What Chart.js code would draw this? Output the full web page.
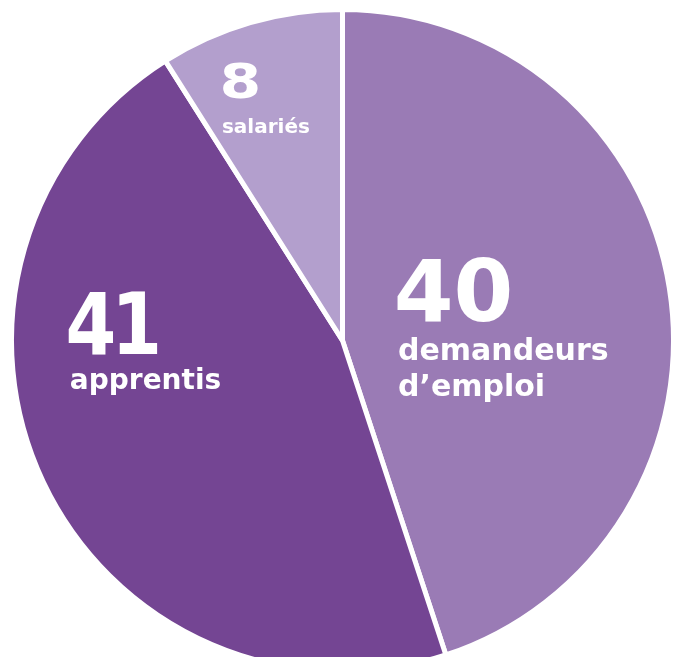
<!DOCTYPE html>
<html>
<head>
<meta charset="utf-8">
<script src="https://cdn.jsdelivr.net/npm/chart.js@4/dist/chart.umd.min.js"></script>
<style>
  html, body { margin: 0; padding: 0; background: #fff; overflow: hidden; }
  #wrap { width: 676px; height: 657px; overflow: hidden; }
</style>
</head>
<body>
<div id="wrap"><canvas id="pieChart" width="676" height="676"></canvas></div>
<script>
// pie.js

const categories = ['demandeurs d\u2019emploi', 'apprentis', 'salariés'];
const values = [40, 41, 8];
const colors = ['#9a7bb5', '#744593', '#b39fcd'];

// label blocks: first line under the number, split for wrapping
const labelLines = [['demandeurs', 'd\u2019emploi'], ['apprentis'], ['salariés']];
// left edge / number baseline, in units of the radius from the centre
const labelAnchor = [[0.169, -0.058], [-0.830, 0.041], [-0.367, -0.738]];
const numberSize = [86, 86, 48];
const numberSpacing = [0, -6, 0];
const numberStretch = [1, 0.85, 1.25];
const textSize = [30, 28, 20];
const lineGap = [[39, 36], [35], [35]];

const labelPlugin = {
  id: 'sliceLabels',
  afterDatasetsDraw(chart) {
    const c = chart.ctx;
    const arcs = chart.getDatasetMeta(0).data;
    c.save();
    c.fillStyle = '#fff';
    c.textAlign = 'left';
    c.textBaseline = 'alphabetic';
    arcs.forEach((arc, i) => {
      const r = arc.outerRadius - 2.5;
      let x = arc.x + labelAnchor[i][0] * r;
      let y = arc.y + labelAnchor[i][1] * r;
      c.save();
      c.font = 'bold ' + numberSize[i] + 'px "DejaVu Sans"';
      c.letterSpacing = numberSpacing[i] + 'px';
      c.translate(x - numberSize[i] * 0.05, y);
      c.scale(numberStretch[i], 1);
      c.fillText(String(values[i]), 0, 0);
      c.restore();
      c.font = 'bold ' + textSize[i] + 'px "DejaVu Sans"';
      labelLines[i].forEach((line, j) => {
        y += lineGap[i][j];
        c.fillText(line, x, y);
      });
    });
    c.restore();
  }
};

let ctx = document.getElementById('pieChart').getContext('2d');

new Chart(ctx, {
  type: 'pie',
  data: {
    labels: categories,
    datasets: [{
      data: values,
      backgroundColor: colors,
      borderColor: '#ffffff',
      borderWidth: 5
    }]
  },
  options: {
    responsive: false,
    animation: false,
    layout: { padding: { left: 9, right: 0, top: 7, bottom: 2 } },
    plugins: {
      legend: { display: false },
      tooltip: { enabled: false }
    }
  },
  plugins: [labelPlugin]
});
</script>
</body>
</html>
